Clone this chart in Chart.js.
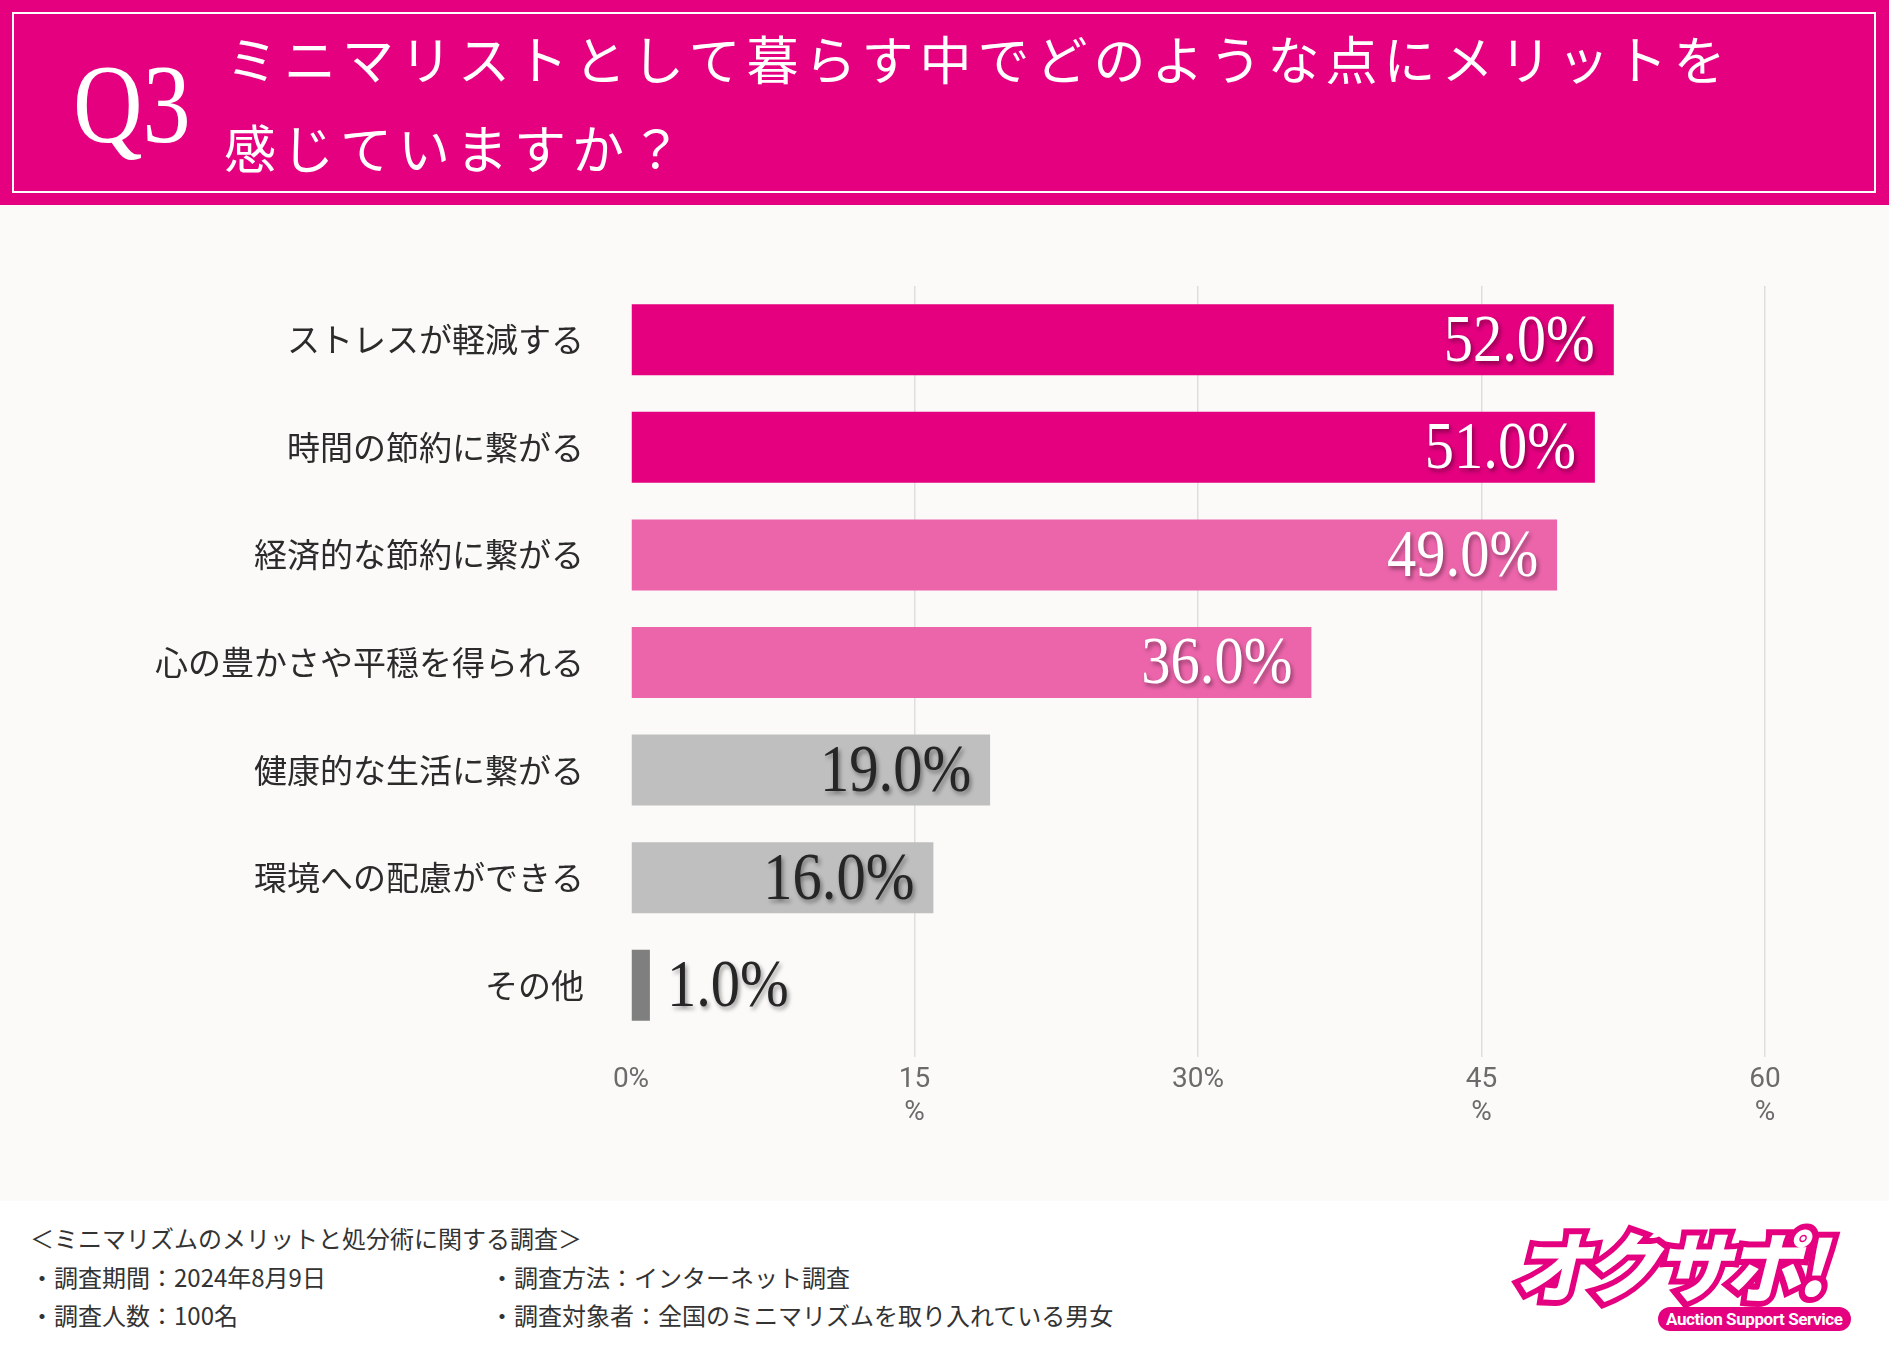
<!DOCTYPE html>
<html lang="ja">
<head>
<meta charset="utf-8">
<title>Q3 ミニマリストのメリット</title>
<script src="https://cdn.jsdelivr.net/npm/chart.js@4.4.1/dist/chart.umd.min.js"></script>
<style>
  html, body { margin: 0; padding: 0; }
  body { width: 1889px; height: 1350px; position: relative; background: #ffffff; overflow: hidden;
         font-family: "Noto Sans CJK JP", "Noto Sans", sans-serif; }
  #header { position: absolute; left: 0; top: 0; width: 1889px; height: 205px; background: #e4007f; }
  #frame { position: absolute; left: 12px; top: 12px; width: 1860px; height: 177px; border: 2px solid #ffffff; }
  #q3 { position: absolute; left: 73px; top: 48px; color: #fff; font-family: "Liberation Serif", serif;
        font-size: 112px; line-height: 112px; transform: scaleX(0.86); transform-origin: left top; }
  .title { position: absolute; left: 226px; color: #fff; font-size: 52px; letter-spacing: 6px; line-height: 60px; white-space: nowrap; }
  #t1 { top: 28px; }
  #t2 { top: 117px; left: 224px; }
  #chartBox { position: absolute; left: 0; top: 205px; width: 1889px; height: 996px; background: #fbfaf8; }
  .note { position: absolute; color: #333; font-size: 24px; line-height: 28px; white-space: nowrap; }
  #logo { position: absolute; left: 1512px; top: 1218px; width: 360px; height: 130px; }
  #logoText { position: absolute; left: 10px; top: 0; font-size: 76px; font-weight: 900; line-height: 90px;
              color: #fff; -webkit-text-stroke: 12px #e4007f; paint-order: stroke fill; letter-spacing: -5px;
              transform: skewX(-14deg); white-space: nowrap; }
  #logoPill { position: absolute; left: 146px; top: 89px; background: #e4007f; color: #fff; border-radius: 13px;
              font-family: Roboto, "Noto Sans", sans-serif; font-weight: 700; font-size: 17px; line-height: 24px;
              padding: 0 8px; letter-spacing: -0.4px; white-space: nowrap; }
</style>
</head>
<body>
<div id="header">
  <div id="frame"></div>
  <div id="q3">Q3</div>
  <div class="title" id="t1">ミニマリストとして暮らす中でどのような点にメリットを</div>
  <div class="title" id="t2">感じていますか？</div>
</div>
<div id="chartBox"><canvas id="barChart"></canvas></div>

<div class="note" style="left:30px; top:1224px;">＜ミニマリズムのメリットと処分術に関する調査＞</div>
<div class="note" style="left:30px; top:1263px;">・調査期間：2024年8月9日</div>
<div class="note" style="left:30px; top:1301px;">・調査人数：100名</div>
<div class="note" style="left:490px; top:1263px;">・調査方法：インターネット調査</div>
<div class="note" style="left:490px; top:1301px;">・調査対象者：全国のミニマリズムを取り入れている男女</div>

<div id="logo">
  <div id="logoText">オクサポ!</div>
  <div id="logoPill">Auction Support Service</div>
</div>

<script>
const categories = [
  'ストレスが軽減する',
  '時間の節約に繋がる',
  '経済的な節約に繋がる',
  '心の豊かさや平穏を得られる',
  '健康的な生活に繋がる',
  '環境への配慮ができる',
  'その他'
];
const percentages = [52.0, 51.0, 49.0, 36.0, 19.0, 16.0, 1.0];
const barColors = ['#e4007f', '#e4007f', '#ec65ab', '#ec65ab', '#bfbfbf', '#bfbfbf', '#7f7f7f'];
const valueLabelColors = ['#ffffff', '#ffffff', '#ffffff', '#ffffff', '#262626', '#262626', '#262626'];
const tickLabels = [['0%'], ['15', '%'], ['30%'], ['45', '%'], ['60', '%']];

// draws the big percentage labels at the end of each bar
const valueLabels = {
  id: 'valueLabels',
  afterDatasetsDraw(chart) {
    const ctx = chart.ctx;
    const meta = chart.getDatasetMeta(0);
    meta.data.forEach((bar, i) => {
      const text = percentages[i].toFixed(1) + '%';
      const inside = bar.x - bar.base > 180;
      ctx.save();
      ctx.font = '68px "Liberation Serif", "DejaVu Serif", serif';
      ctx.fillStyle = valueLabelColors[i];
      ctx.shadowColor = 'rgba(0, 0, 0, 0.4)';
      ctx.shadowBlur = 4;
      ctx.shadowOffsetX = 2;
      ctx.shadowOffsetY = 3;
      ctx.textBaseline = 'middle';
      ctx.textAlign = inside ? 'right' : 'left';
      ctx.translate(inside ? bar.x - 19 : bar.x + 17, bar.y + 3);
      ctx.scale(0.86, 1);
      ctx.fillText(text, 0, 0);
      ctx.restore();
    });
  }
};

document.addEventListener('DOMContentLoaded', function () {
  const ctx = document.getElementById('barChart').getContext('2d');
  new Chart(ctx, {
    type: 'bar',
    data: {
      labels: categories,
      datasets: [
        {
          data: percentages,
          backgroundColor: barColors,
          borderWidth: 0,
          barPercentage: 0.66,
          categoryPercentage: 1.0,
        },
      ],
    },
    options: {
      indexAxis: 'y',
      responsive: true,
      maintainAspectRatio: false,
      animation: false,
      layout: { padding: { top: 81, right: 124, left: 0, bottom: 0 } },
      plugins: {
        legend: { display: false },
        tooltip: { enabled: false },
      },
      scales: {
        x: {
          min: 0,
          max: 60,
          afterFit: (scale) => { scale.height = 162; },
          border: { display: false },
          grid: {
            color: (c) => (c.tick && c.tick.value === 0 ? 'rgba(0,0,0,0)' : '#dedede'),
            lineWidth: 1.5,
            drawTicks: true,
            tickLength: 18,
          },
          ticks: {
            stepSize: 15,
            padding: 6,
            color: '#6b6b6b',
            font: { family: 'Roboto, "Noto Sans", sans-serif', size: 28, lineHeight: 1.2 },
            callback: (value, index) => tickLabels[index],
          },
        },
        y: {
          afterFit: (scale) => { scale.width = 631; },
          border: { display: false },
          grid: { display: false, drawTicks: false },
          ticks: {
            padding: 47,
            color: '#2b2b2b',
            font: { family: '"Noto Sans CJK JP", sans-serif', size: 33 },
          },
        },
      },
    },
    plugins: [valueLabels],
  });
});
</script>
</body>
</html>
